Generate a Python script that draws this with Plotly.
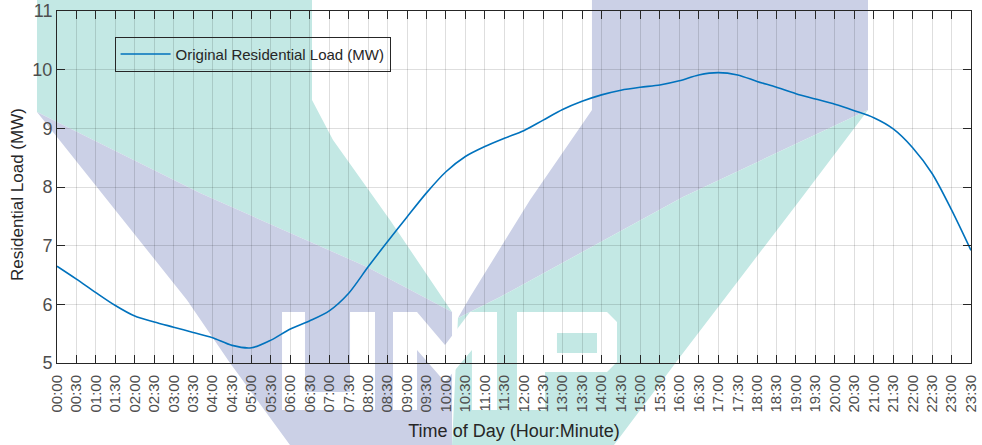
import plotly.graph_objects as go

# ---- data ----
time_labels = ["00:00", "00:30", "01:00", "01:30", "02:00", "02:30", "03:00", "03:30",
               "04:00", "04:30", "05:00", "05:30", "06:00", "06:30", "07:00", "07:30",
               "08:00", "08:30", "09:00", "09:30", "10:00", "10:30", "11:00", "11:30",
               "12:00", "12:30", "13:00", "13:30", "14:00", "14:30", "15:00", "15:30",
               "16:00", "16:30", "17:00", "17:30", "18:00", "18:30", "19:00", "19:30",
               "20:00", "20:30", "21:00", "21:30", "22:00", "22:30", "23:00", "23:30"]
hours = [0.0, 0.5, 1.0, 1.5, 2.0, 2.5, 3.0, 3.5, 4.0, 4.5, 5.0, 5.5,
         6.0, 6.5, 7.0, 7.5, 8.0, 8.5, 9.0, 9.5, 10.0, 10.5, 11.0, 11.5,
         12.0, 12.5, 13.0, 13.5, 14.0, 14.5, 15.0, 15.5, 16.0, 16.5, 17.0, 17.5,
         18.0, 18.5, 19.0, 19.5, 20.0, 20.5, 21.0, 21.5, 22.0, 22.5, 23.0, 23.5]
load_mw = [6.65, 6.43, 6.20, 5.98, 5.80, 5.70, 5.61, 5.52, 5.43, 5.30, 5.26, 5.39,
           5.58, 5.72, 5.89, 6.19, 6.64, 7.07, 7.49, 7.90, 8.26, 8.52, 8.69, 8.83,
           8.96, 9.14, 9.32, 9.46, 9.57, 9.65, 9.70, 9.74, 9.81, 9.91, 9.95, 9.91,
           9.80, 9.70, 9.59, 9.50, 9.41, 9.30, 9.18, 8.99, 8.67, 8.23, 7.61, 6.92]
y_ticks = [5, 6, 7, 8, 9, 10, 11]

FONT = "Liberation Sans, Arial, Helvetica, sans-serif"
W, H = 982, 445
ML, MR, MT, MB = 57, 11, 11, 82
PW, PH = W - ML - MR, H - MT - MB

fig = go.Figure()
fig.add_trace(go.Scatter(
    x=hours, y=load_mw, mode="lines", name="Original Residential Load (MW)",
    line=dict(color="#0072BD", width=1.6, shape="spline", smoothing=0.8),
))

# ---- background watermark (decorative logo) in pixel space -> paper ----
def px(x, y):
    return ((x - ML) / PW, (H - MB - y) / PH)

def path(pts):
    s = ""
    for i, (x, y) in enumerate(pts):
        u, v = px(x, y)
        s += ("M" if i == 0 else "L") + f"{u:.4f},{v:.4f}"
    return s + "Z"

TEAL = "#c3e8e4"
PURP = "#cbd0e6"
wm = [
    (TEAL, [(37, 0), (312, 0), (312, 100), (333, 140), (390, 220), (452, 312),
            (367, 267), (200, 193), (37, 112)]),
    (PURP, [(37, 112), (200, 193), (367, 267), (452, 312), (452, 445), (290, 445),
            (230, 363), (187, 300), (57, 137)]),
    (PURP, [(592, 0), (868, 0), (868, 110), (683, 197), (500, 297), (458, 318),
            (470, 297), (530, 200), (592, 110)]),
    (TEAL, [(868, 110), (683, 197), (500, 297), (458, 318), (452, 445), (614, 445),
            (680, 357), (800, 200)]),
    ("#ffffff", [(282, 312), (305, 312), (305, 392), (350, 392), (350, 312), (375, 312),
                 (375, 410), (282, 410)]),
    ("#ffffff", [(393, 312), (417, 312), (445, 345), (470, 312), (497, 312), (497, 410),
                 (472, 410), (472, 350), (445, 382), (417, 350), (417, 410), (393, 410)]),
    ("#ffffff", [(517, 312), (607, 312), (617, 322), (617, 362), (607, 372), (545, 372),
                 (545, 410), (517, 410)]),
    (TEAL, [(557, 333), (597, 333), (597, 353), (557, 353)]),
]
shapes = [dict(type="path", xref="paper", yref="paper", path=path(p), fillcolor=c,
               line=dict(width=0), layer="below") for c, p in wm]

ylab_x, ylab_y = px(17, 195)

fig.update_layout(
    width=W, height=H,
    margin=dict(l=ML, r=MR, t=MT, b=MB),
    paper_bgcolor="white", plot_bgcolor="rgba(0,0,0,0)",
    font=dict(family=FONT, color="#262626"),
    shapes=shapes,
    showlegend=True,
    legend=dict(x=0.063, y=0.927, xanchor="left", yanchor="top",
                bgcolor="rgba(0,0,0,0)", bordercolor="#262626", borderwidth=1,
                font=dict(size=15, family=FONT, color="#262626"),
                itemwidth=50, tracegroupgap=0),
    annotations=[dict(text="Residential Load (MW)", xref="paper", yref="paper",
                      x=ylab_x, y=ylab_y, xanchor="center", yanchor="middle",
                      textangle=-90, showarrow=False,
                      font=dict(size=17, family=FONT, color="#262626"))],
)
fig.update_xaxes(
    range=[0, 23.5], tickvals=hours, ticktext=time_labels, tickangle=-90,
    tickfont=dict(size=15, color="#4d4d4d"), automargin=False, ticklabelstandoff=5,
    ticks="inside", ticklen=8, tickcolor="#262626",
    showline=True, linecolor="#262626", linewidth=1, mirror="ticks",
    showgrid=True, gridcolor="rgba(0,0,0,0.13)", gridwidth=1, zeroline=False,
    title=dict(text="Time of Day (Hour:Minute)", font=dict(size=18, color="#262626"),
               standoff=12),
)
fig.update_yaxes(
    range=[5, 11], tickvals=y_ticks, automargin=False,
    tickfont=dict(size=18, color="#4d4d4d"),
    ticks="inside", ticklen=8, tickcolor="#262626",
    showline=True, linecolor="#262626", linewidth=1, mirror="ticks",
    showgrid=True, gridcolor="rgba(0,0,0,0.13)", gridwidth=1, zeroline=False,
)
fig.write_html("out.html", config={"displayModeBar": False},
               post_script="document.body.style.margin='0';document.body.style.overflow='hidden';")
